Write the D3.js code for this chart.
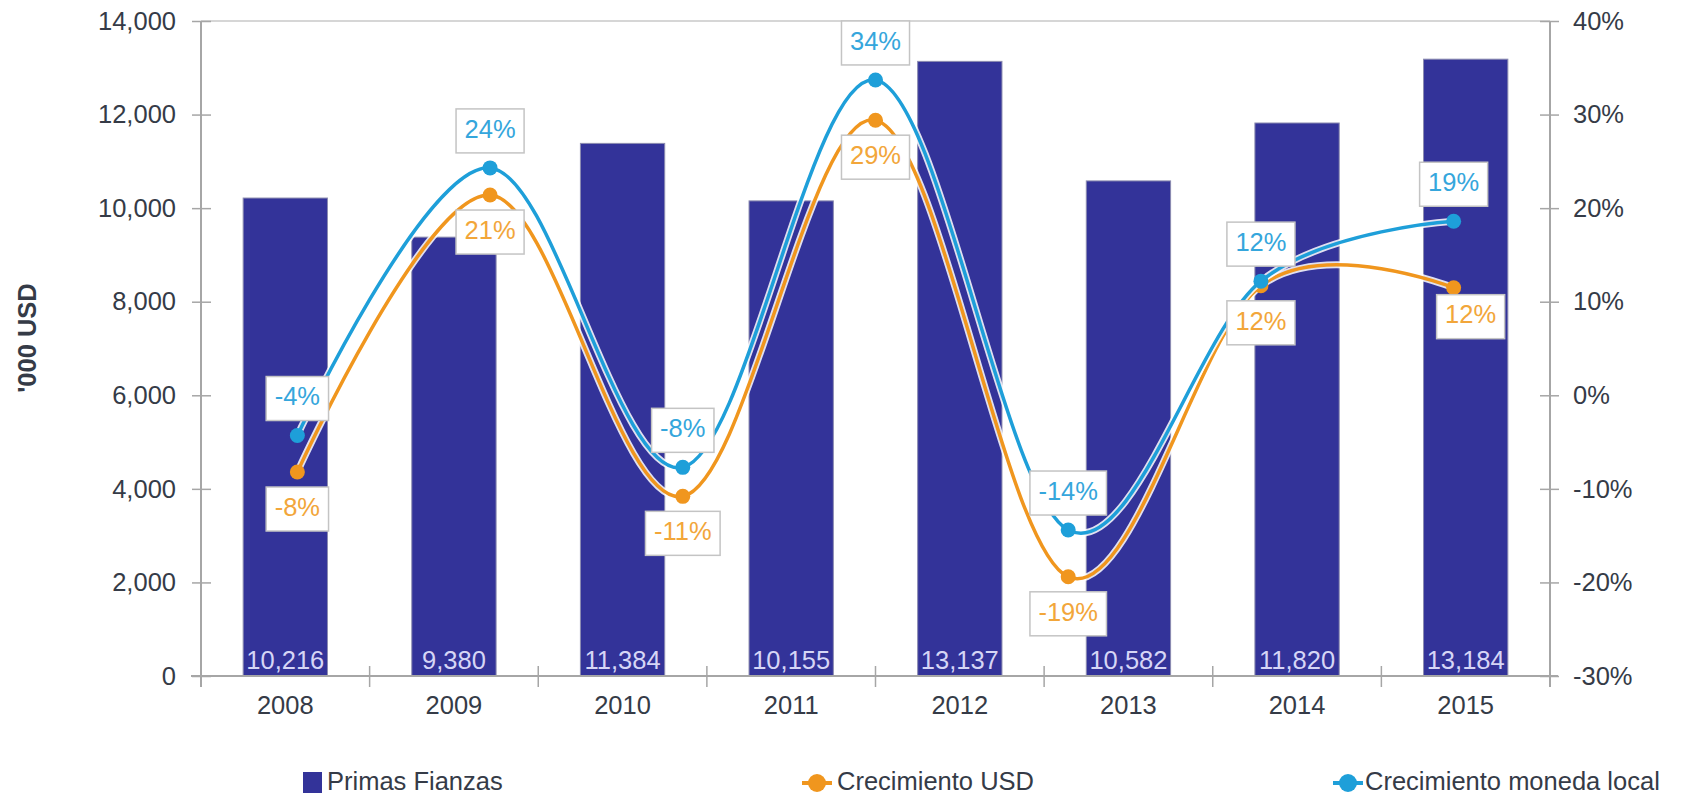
<!DOCTYPE html>
<html>
<head>
<meta charset="utf-8">
<script src="https://cdn.jsdelivr.net/npm/d3@7/dist/d3.min.js"></script>
<style>
  html, body { margin: 0; padding: 0; background: #ffffff; }
  svg { display: block; }
  text { font-family: "Liberation Sans", Arial, sans-serif; }
</style>
</head>
<body>
<svg id="chart" width="1682" height="797"></svg>
<script>
// ---- data ----
const years = ['2008', '2009', '2010', '2011', '2012', '2013', '2014', '2015'];
const primasFianzas = [10216, 9380, 11384, 10155, 13137, 10582, 11820, 13184];
const growthYears = ['2009', '2010', '2011', '2012', '2013', '2014', '2015'];
const crecimientoUSD = [-8.2, 21.4, -10.8, 29.4, -19.4, 11.7, 11.5];
const crecimientoLocal = [-4.3, 24.3, -7.7, 33.7, -14.4, 12.2, 18.6];
const leftTicks = [0, 2000, 4000, 6000, 8000, 10000, 12000, 14000];
const rightTicks = [-30, -20, -10, 0, 10, 20, 30, 40];
const seriesNames = ['Primas Fianzas', 'Crecimiento USD', 'Crecimiento moneda local'];
const yAxisTitle = "'000 USD";

// ---- layout ----
const svg = d3.select('#chart');
const L = 201, R = 1550, T = 21, B = 676;
const FS = 25.5;
const textColor = '#353b47';
const axisColor = '#a6a6a6';
const barColor = '#333399';
const orange = '#f0961e';
const blue = '#1e9fd9';
const orangeText = '#f2a63a';
const blueText = '#35a6dc';

const x = d3.scaleBand().domain(years).range([L, R]).paddingInner(0.5).paddingOuter(0.25);
const xg = d3.scalePoint().domain(growthYears).range([L, R]).padding(0.5);
const yL = d3.scaleLinear().domain([0, 14000]).range([B, T]);
const yR = d3.scaleLinear().domain([-30, 40]).range([B, T]);

// top border of plot area
svg.append('line').attr('x1', L).attr('x2', R).attr('y1', T).attr('y2', T)
  .attr('stroke', '#c8c8c8').attr('stroke-width', 1.5);

// bars
const barData = years.map((y, i) => ({ year: y, v: primasFianzas[i] }));
svg.append('g').selectAll('rect').data(barData).join('rect')
  .attr('x', d => x(d.year)).attr('width', x.bandwidth())
  .attr('y', d => yL(d.v)).attr('height', d => yL(0) - yL(d.v))
  .attr('fill', barColor).attr('stroke', '#8c8cb0').attr('stroke-width', 1);

// bar value labels
svg.append('g').selectAll('text').data(barData).join('text')
  .attr('x', d => x(d.year) + x.bandwidth() / 2).attr('y', B - 14)
  .attr('text-anchor', 'middle').attr('dominant-baseline', 'middle')
  .attr('font-size', FS).attr('fill', '#d6d6f6')
  .text(d => d3.format(',')(d.v));

// left axis
const gL = svg.append('g').attr('transform', `translate(${L},0)`)
  .call(d3.axisLeft(yL).tickValues(leftTicks).tickFormat(d3.format(',')).tickSize(10).tickPadding(15));
gL.select('.domain').attr('stroke', axisColor).attr('stroke-width', 2).attr('d', `M0,${T}V${B + 11}`);
gL.selectAll('.tick line').attr('x1', -9).attr('x2', 10).attr('stroke', axisColor).attr('stroke-width', 1.5);
gL.selectAll('.tick text').attr('font-size', FS).attr('fill', textColor).attr('font-family', '"Liberation Sans", Arial, sans-serif');

// right axis
const gR = svg.append('g').attr('transform', `translate(${R},0)`)
  .call(d3.axisRight(yR).tickValues(rightTicks).tickFormat(d => d + '%').tickSize(10).tickPadding(13));
gR.select('.domain').attr('stroke', axisColor).attr('stroke-width', 2).attr('d', `M0,${T}V${B + 11}`);
gR.selectAll('.tick line').attr('x1', -10).attr('x2', 9).attr('stroke', axisColor).attr('stroke-width', 1.5);
gR.selectAll('.tick text').attr('font-size', FS).attr('fill', textColor).attr('font-family', '"Liberation Sans", Arial, sans-serif');

// bottom axis
svg.append('line').attr('x1', L - 10).attr('x2', R + 8).attr('y1', B).attr('y2', B)
  .attr('stroke', axisColor).attr('stroke-width', 2);
const boundaries = d3.range(years.length + 1).map(i => x(years[0]) - x.step() * x.paddingOuter() + i * x.step());
svg.append('g').selectAll('line').data(boundaries.slice(1, -1)).join('line')
  .attr('x1', d => d).attr('x2', d => d).attr('y1', B - 10).attr('y2', B + 11)
  .attr('stroke', axisColor).attr('stroke-width', 1.5);
svg.append('g').selectAll('text').data(years).join('text')
  .attr('x', d => x(d) + x.bandwidth() / 2).attr('y', B + 31)
  .attr('text-anchor', 'middle').attr('dominant-baseline', 'middle')
  .attr('font-size', FS).attr('fill', textColor).text(d => d);

// y axis title
svg.append('text').attr('transform', `translate(29,338) rotate(-90)`)
  .attr('text-anchor', 'middle').attr('dominant-baseline', 'middle')
  .attr('font-size', FS).attr('font-weight', 'bold').attr('fill', textColor)
  .text(yAxisTitle);

// lines
const lineGen = d3.line().x(d => xg(d.year)).y(d => yR(d.v)).curve(d3.curveCardinal.tension(0));
const usd = growthYears.map((y, i) => ({ year: y, v: crecimientoUSD[i] }));
const loc = growthYears.map((y, i) => ({ year: y, v: crecimientoLocal[i] }));

function drawSeries(data, color) {
  svg.append('path').datum(data).attr('d', lineGen).attr('fill', 'none')
    .attr('stroke', '#ffffff').attr('stroke-width', 7).attr('stroke-opacity', 0.85);
  svg.append('path').datum(data).attr('d', lineGen).attr('fill', 'none')
    .attr('stroke', color).attr('stroke-width', 3.5);
  svg.append('g').selectAll('circle').data(data).join('circle')
    .attr('cx', d => xg(d.year)).attr('cy', d => yR(d.v)).attr('r', 7.5).attr('fill', color);
}
drawSeries(usd, orange);
drawSeries(loc, blue);

// data labels (boxes)
function drawLabels(data, dyOffset, tColor, nudge) {
  const g = svg.append('g');
  data.forEach((d, i) => {
    const n = nudge[i] || [0, 0];
    const cx = xg(d.year) + n[0];
    const cy = yR(d.v) + dyOffset + n[1];
    const lg = g.append('g');
    const t = lg.append('text').attr('x', cx).attr('y', cy)
      .attr('text-anchor', 'middle').attr('dominant-baseline', 'middle')
      .attr('font-size', FS).attr('fill', tColor).text(Math.round(d.v) + '%');
    const w = t.node().getComputedTextLength() + 17;
    lg.insert('rect', 'text').attr('x', cx - w / 2).attr('y', cy - 22).attr('width', w).attr('height', 44)
      .attr('fill', '#ffffff').attr('stroke', '#c4c4c4').attr('stroke-width', 1.5);
  });
}
drawLabels(usd, 37, orangeText, { 6: [17, -8] });
drawLabels(loc, -37, blueText, {});

// legend
const ly = 783;
svg.append('rect').attr('x', 303).attr('y', ly - 11).attr('width', 19).attr('height', 21).attr('fill', barColor);
svg.append('text').attr('x', 327).attr('y', ly).attr('dominant-baseline', 'middle')
  .attr('font-size', FS).attr('fill', textColor).text(seriesNames[0]);

[[817, orange, 837, seriesNames[1]], [1348, blue, 1365, seriesNames[2]]].forEach(([mx, c, tx, name]) => {
  svg.append('line').attr('x1', mx - 15).attr('x2', mx + 15).attr('y1', ly).attr('y2', ly)
    .attr('stroke', c).attr('stroke-width', 4);
  svg.append('circle').attr('cx', mx).attr('cy', ly).attr('r', 9).attr('fill', c);
  svg.append('text').attr('x', tx).attr('y', ly).attr('dominant-baseline', 'middle')
    .attr('font-size', FS).attr('fill', textColor).text(name);
});
</script>
</body>
</html>
